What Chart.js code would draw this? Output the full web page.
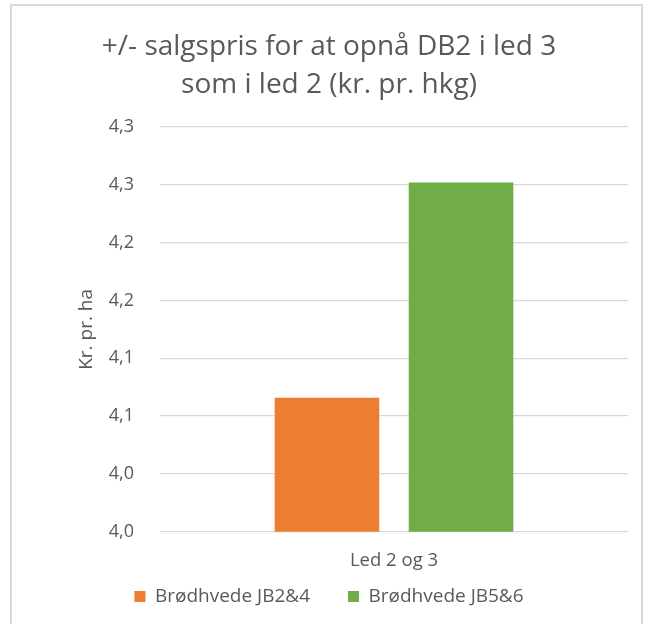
<!DOCTYPE html>
<html>
<head>
<meta charset="utf-8">
<script src="https://cdn.jsdelivr.net/npm/chart.js@4"></script>
<style>
  html, body { margin: 0; padding: 0; background: #fff; }
  #frame {
    position: absolute; left: 10px; top: 4px; width: 633px; height: 640px;
    border: 2px solid #d9d9d9; border-bottom: none; box-sizing: border-box;
  }
  #wrap { position: absolute; left: 0; top: 0; width: 648px; height: 624px; }
</style>
</head>
<body>
<div id="frame"></div>
<div id="wrap"><canvas id="chartCanvas" width="648" height="624"></canvas></div>
<script>
const categories = ["Led 2 og 3"];
const seriesNames = ["Brødhvede JB2&4", "Brødhvede JB5&6"];
const seriesValues = [[4.116], [4.302]];
const seriesColors = ["#ED7D31", "#70AD47"];
const tickLabels = ["4,0", "4,0", "4,1", "4,1", "4,2", "4,2", "4,3", "4,3"];
const titleLines = ["+/- salgspris for at opnå DB2 i led 3", "som i led 2 (kr. pr. hkg)"];

const textColor = "#595959";
const fontFamily = "'Open Sans', sans-serif";

const datasets = seriesNames.map((name, i) => ({
  label: name,
  data: seriesValues[i],
  backgroundColor: seriesColors[i],
  borderWidth: 0,
  categoryPercentage: 0.573,
  barPercentage: 0.78
}));

// legend padding is large (gap between the two items), so stretch the legend box upward
const liftLegend = {
  id: "liftLegend",
  afterLayout(chart) {
    const lg = chart.legend;
    lg.top -= 40;
    lg.height += 40;
  }
};

const ctx = document.getElementById("chartCanvas").getContext("2d");
const chart = new Chart(ctx, {
  type: "bar",
  data: { labels: categories, datasets: datasets },
  plugins: [liftLegend],
  options: {
    responsive: false,
    animation: false,
    layout: { padding: { left: 30, right: 20, top: 0, bottom: 0 } },
    plugins: {
      title: {
        display: true,
        text: titleLines,
        color: textColor,
        font: { family: fontFamily, size: 28, weight: "normal", lineHeight: 1.357 },
        padding: { top: 28, bottom: 23 }
      },
      legend: {
        position: "bottom",
        maxHeight: 35,
        labels: {
          color: textColor,
          font: { family: fontFamily, size: 19 },
          boxWidth: 11,
          boxHeight: 11,
          padding: 38
        }
      },
      tooltip: { enabled: false }
    },
    scales: {
      x: {
        grid: { display: false, drawTicks: false },
        border: { display: false },
        ticks: { color: textColor, font: { family: fontFamily, size: 18.5 }, padding: 17.5 }
      },
      y: {
        min: 4.0,
        max: 4.35,
        afterFit: (scale) => { scale.width = 130; },
        border: { display: false },
        grid: { color: "#d9d9d9", lineWidth: 1.3, drawTicks: false },
        title: {
          display: true,
          text: "Kr. pr. ha",
          color: textColor,
          font: { family: fontFamily, size: 19 },
          padding: { top: 45, bottom: 0 }
        },
        ticks: {
          stepSize: 0.05,
          padding: 26,
          color: textColor,
          font: { family: fontFamily, size: 18 },
          callback: (value, index) => tickLabels[index]
        }
      }
    }
  }
});
</script>
</body>
</html>
